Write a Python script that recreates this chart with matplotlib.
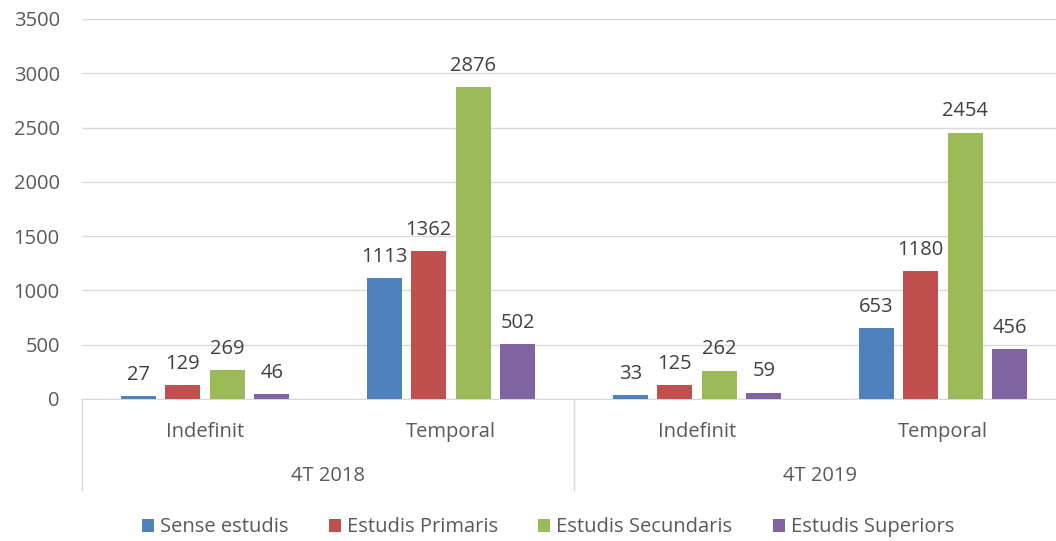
import numpy as np
import matplotlib.pyplot as plt
from matplotlib.transforms import blended_transform_factory

# Dades
periodes = ["4T 2018", "4T 2019"]
contractes = ["Indefinit", "Temporal"]
series = ["Sense estudis", "Estudis Primaris", "Estudis Secundaris", "Estudis Superiors"]
sense_estudis = [27, 1113, 33, 653]
estudis_primaris = [129, 1362, 125, 1180]
estudis_secundaris = [269, 2876, 262, 2454]
estudis_superiors = [46, 502, 59, 456]
colors = ["#4F81BD", "#C0504D", "#9BBB59", "#8064A2"]

valors = [sense_estudis, estudis_primaris, estudis_secundaris, estudis_superiors]

plt.rcParams['font.family'] = ['Open Sans', 'DejaVu Sans']
mida = 14.5

fig = plt.figure(figsize=(10.56, 5.41), dpi=100)
ax = fig.add_axes([82 / 1056, 142 / 541, 984 / 1056, 380 / 541])

x = np.arange(4)
amplada = 0.142
pas = 0.181
for i, (nom, vals) in enumerate(zip(series, valors)):
    pos = x + (i - 1.5) * pas
    ax.bar(pos, vals, amplada, color=colors[i], label=nom, zorder=3)
    for p, v in zip(pos, vals):
        ax.annotate(str(v), (p, v), xytext=(0, 8), textcoords="offset points",
                    ha="center", va="bottom", fontsize=mida, color="#404040")

ax.set_xlim(-0.5, 3.5)
ax.set_ylim(0, 3500)
ax.set_yticks(range(0, 3501, 500))
ax.tick_params(axis="y", length=0, labelsize=mida, labelcolor="#595959", pad=16)
ax.set_xticks([])
ax.yaxis.grid(True, color="#D9D9D9", linewidth=1, zorder=0)
for s in ["top", "right", "left"]:
    ax.spines[s].set_visible(False)
ax.spines["bottom"].set_color("#D9D9D9")

# Eix de categories en dos nivells
trans = blended_transform_factory(ax.transData, ax.transAxes)
for xs in [-0.5, 1.5, 3.5]:
    ax.plot([xs, xs], [0, -0.24], transform=trans, color="#D9D9D9",
            linewidth=1, clip_on=False)
for g in range(4):
    ax.text(g, -0.087, contractes[g % 2], transform=trans, ha="center", va="center",
            fontsize=mida, color="#595959")
for k, per in enumerate(periodes):
    ax.text(2 * k + 0.5, -0.203, per, transform=trans, ha="center", va="center",
            fontsize=mida, color="#595959")

fig.legend(loc="lower center", bbox_to_anchor=(0.519, -0.027), ncol=4, frameon=False,
           fontsize=mida, handlelength=0.6, handleheight=0.6, handletextpad=0.3,
           columnspacing=2.0, labelcolor="#595959")

fig.savefig("out.png", dpi=100)
